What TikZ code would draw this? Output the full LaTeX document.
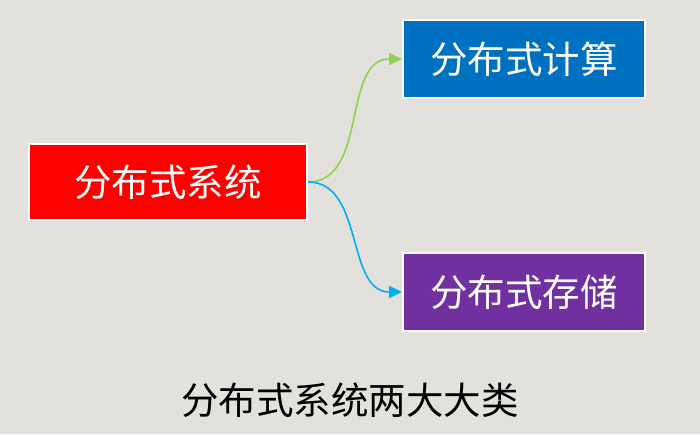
\documentclass[tikz,border=0pt]{standalone}
\usepackage{fontspec}
\usepackage{tikz}
\usetikzlibrary{arrows.meta}
\newfontfamily\cjk{Noto Sans CJK SC}
\definecolor{fundo}{RGB}{227,225,221}
\definecolor{vermelho}{RGB}{255,0,0}
\definecolor{azul}{RGB}{0,112,192}
\definecolor{roxo}{RGB}{112,48,160}
\definecolor{verde}{RGB}{146,208,80}
\definecolor{ciano}{RGB}{0,176,240}

\begin{document}
\begin{tikzpicture}[x=1pt, y=-1pt,
	caixa/.style={draw=white, line width=2pt, rectangle, text=white, font=\cjk\fontsize{37.5}{40}\selectfont},
	seta/.style={-{Triangle[length=13pt,width=12pt]}, line width=1.6pt}
	]
	\fill[fundo] (0,0) rectangle (700,434);
	\useasboundingbox (0,0) rectangle (700,434);

	\node[caixa, fill=vermelho, minimum width=278, minimum height=76] (sis) at (168,182) {分布式系统};
	\node[caixa, fill=azul, minimum width=242, minimum height=78] (calc) at (524,59) {分布式计算};
	\node[caixa, fill=roxo, minimum width=242, minimum height=78] (arm) at (524,292) {分布式存储};

	\node[font=\cjk\fontsize{37.5}{40}\selectfont] (titulo) at (350,400) {分布式系统两大大类};

	\draw[seta, verde] (sis.east) to[out=0, in=180] (calc.west);
	\draw[seta, ciano] (sis.east) to[out=0, in=180] (arm.west);
\end{tikzpicture}
\end{document}
